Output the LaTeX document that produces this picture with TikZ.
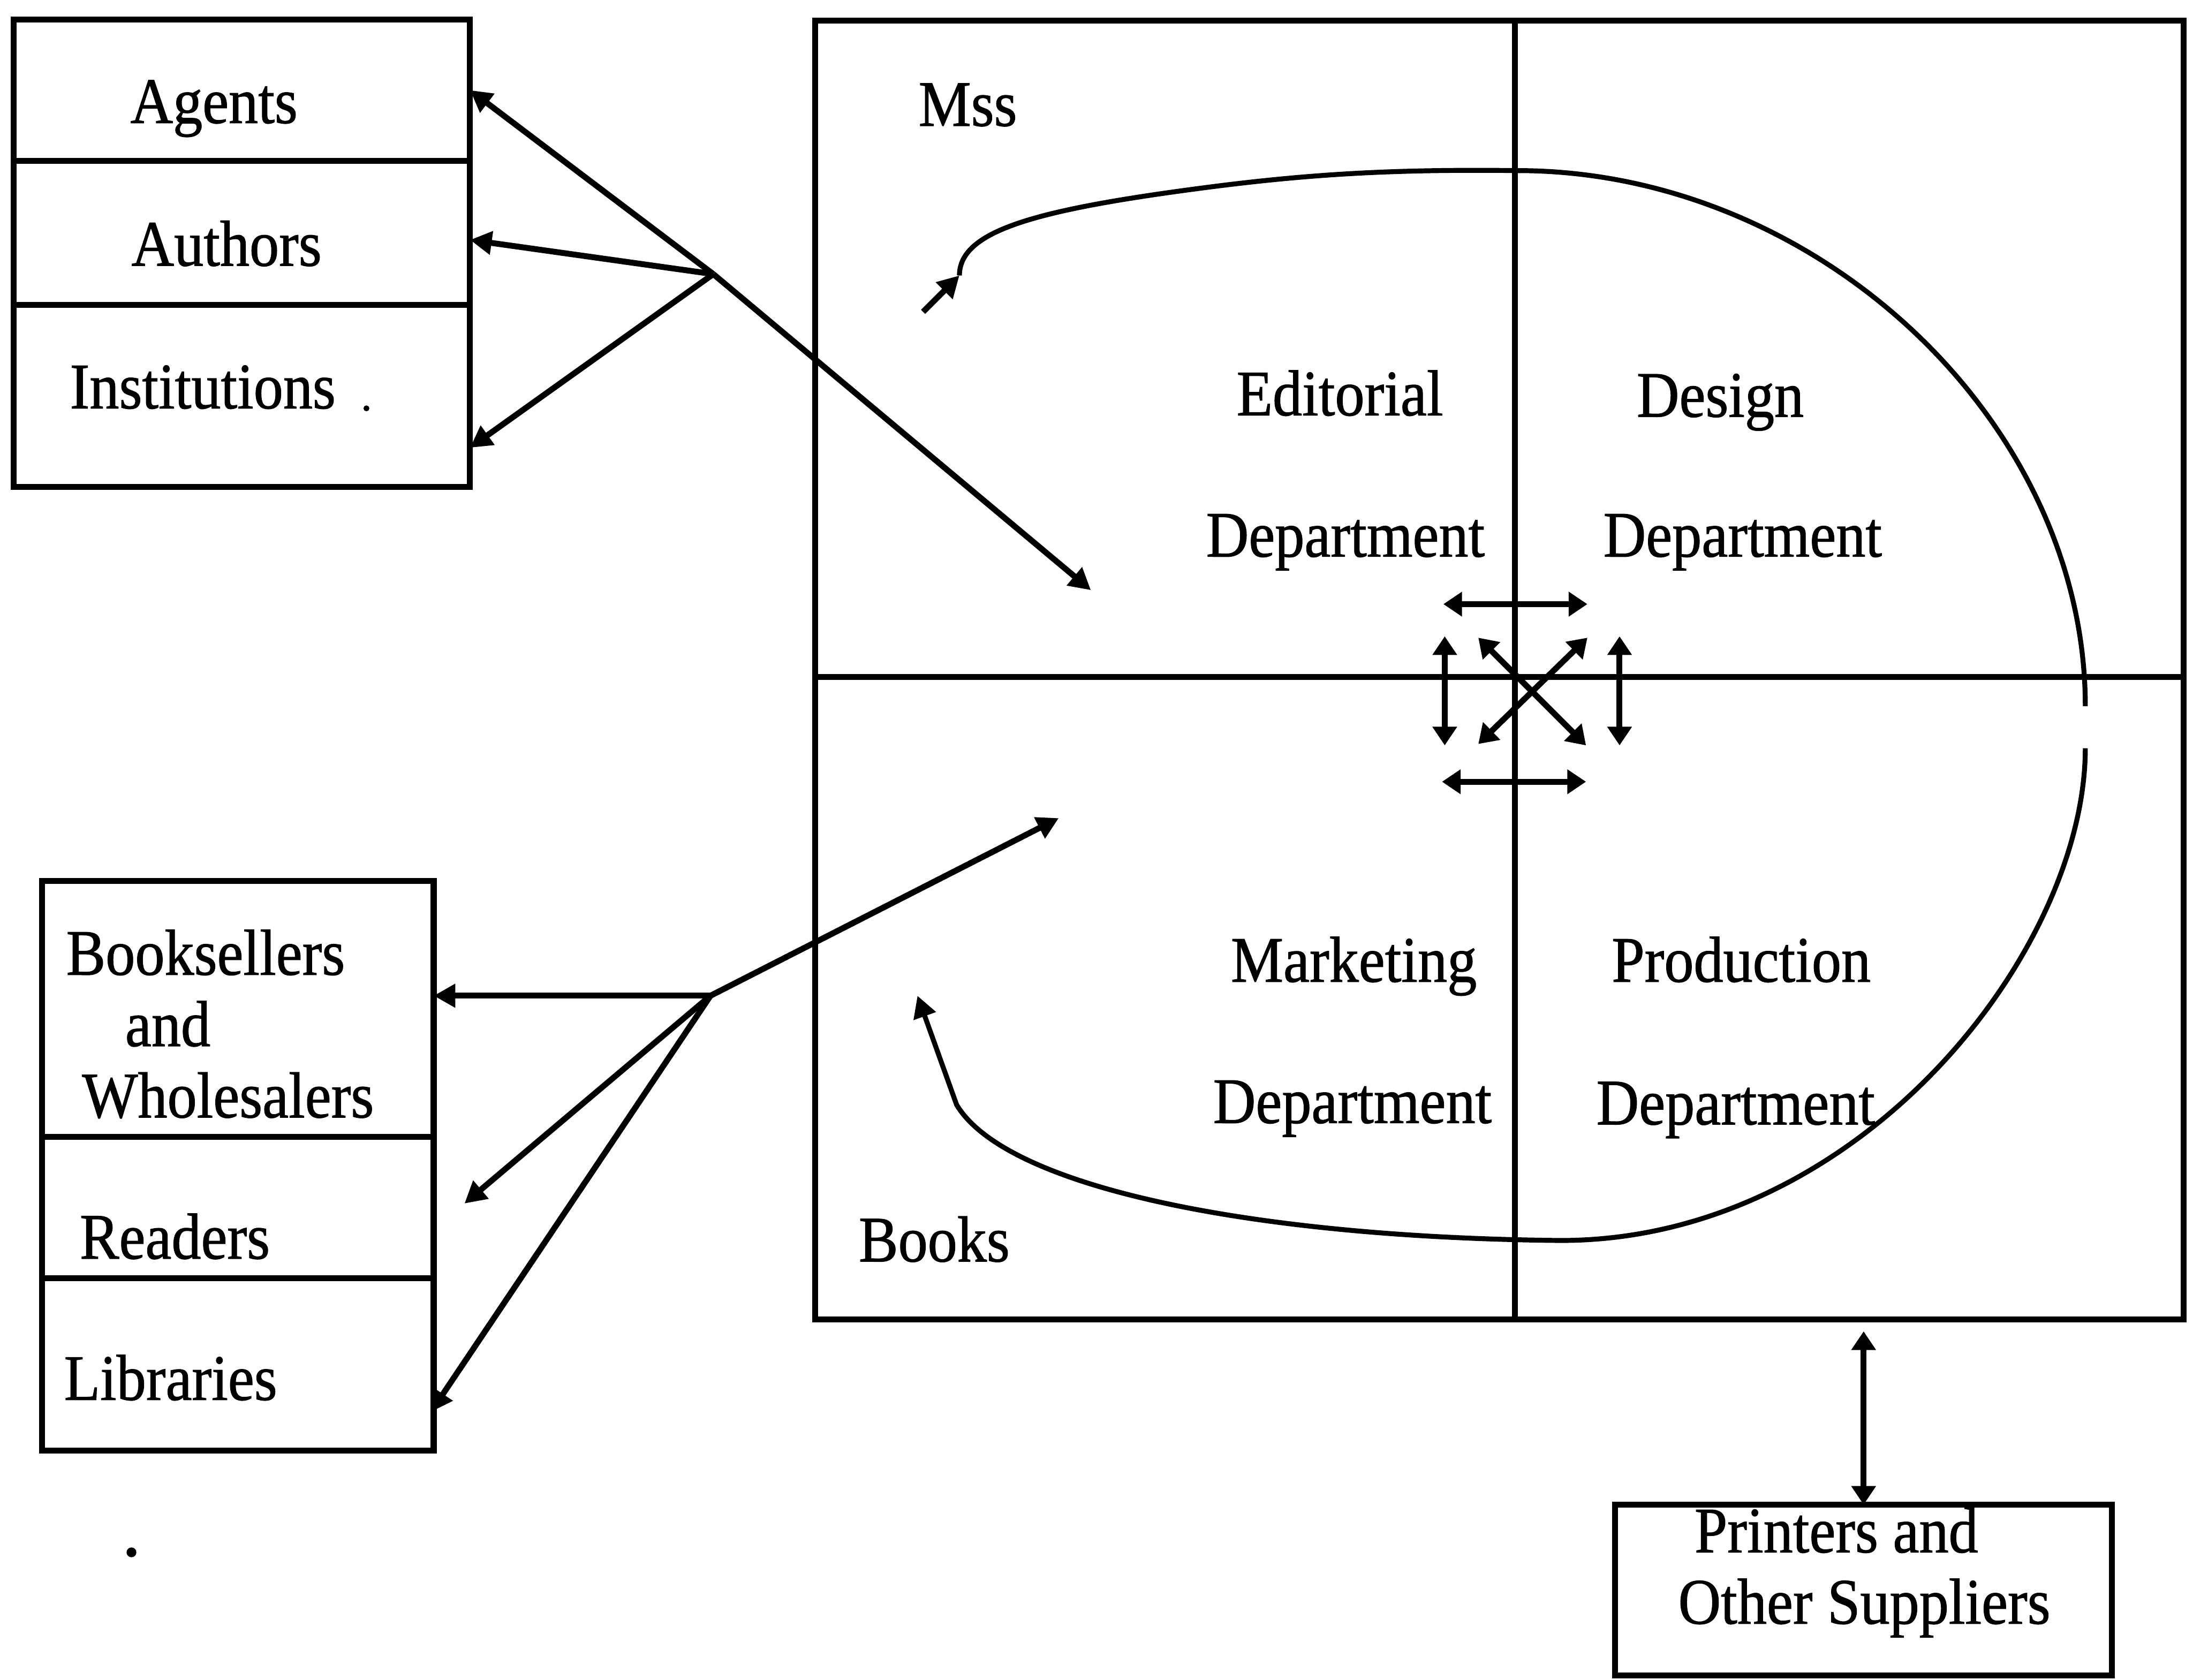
\documentclass[tikz,border=0pt]{standalone}
\usepackage{fontspec}
\setmainfont{Liberation Serif}[FakeBold=1]
\usetikzlibrary{positioning, arrows.meta, calc}

\begin{document}
\begin{tikzpicture}[x=0.01cm, y=-0.01cm, line width=1.2pt,
  box/.style={draw, rectangle, inner sep=0pt, outer sep=0pt},
  lbl/.style={anchor=base, inner sep=0pt, yscale=1.1, font=\fontsize{12}{14}\selectfont},
  arr/.style={-{Triangle[length=4.4pt, width=4.6pt]}},
  dbl/.style={{Triangle[length=3.8pt, width=4.8pt]}-{Triangle[length=3.8pt, width=4.8pt]}},
  flow/.style={line width=1pt}]

\useasboundingbox (0,0) rectangle (1568,1201);

% where the manuscripts come from
\node[box, minimum width=3.26cm, minimum height=1.01cm] (agents) at (173,64.5) {};
\node[box, minimum width=3.26cm, minimum height=1.03cm, below=0pt of agents] (authors) {};
\node[box, minimum width=3.26cm, minimum height=1.30cm, below=0pt of authors] (inst) {};

% the four departments
\node[box, minimum width=5.00cm, minimum height=4.69cm] (edit) at (833,249.5) {};
\node[box, minimum width=4.78cm, minimum height=4.69cm, right=0pt of edit] (design) {};
\node[box, minimum width=5.00cm, minimum height=4.59cm, below=0pt of edit] (mkt) {};
\node[box, minimum width=4.78cm, minimum height=4.59cm, right=0pt of mkt] (prod) {};

% where the books go
\node[box, minimum width=2.80cm, minimum height=1.83cm] (sellers) at (170,721.5) {};
\node[box, minimum width=2.80cm, minimum height=1.01cm, below=0pt of sellers] (readers) {};
\node[box, minimum width=2.80cm, minimum height=1.23cm, below=0pt of readers] (libs) {};

\node[box, minimum width=3.55cm, minimum height=1.22cm] (printers) at (1332.5,1137) {};

% labels
\node[lbl] (agentsl) at (153,88) {Agents};
\node[lbl] (authorsl) at (162,190) {Authors};
\node[lbl] (instl) at (145,292) {Institutions};
\node[lbl] (mss) at (692,90) {Mss};
\node[lbl] (edit1) at (958,297) {Editorial};
\node[lbl] (edit2) at (962,398) {Department};
\node[lbl] (design1) at (1230,298) {Design};
\node[lbl] (design2) at (1246,398) {Department};
\node[lbl] (mkt1) at (968,702) {Marketing};
\node[lbl] (mkt2) at (967,803) {Department};
\node[lbl] (prod1) at (1245,702) {Production};
\node[lbl] (prod2) at (1241,804) {Department};
\node[lbl] (books) at (668,902) {Books};
\node[lbl] (sellers1) at (147,697) {Booksellers};
\node[lbl] (sellers2) at (120,748) {and};
\node[lbl] (sellers3) at (163,799) {Wholesalers};
\node[lbl] (readersl) at (125,900) {Readers};
\node[lbl] (libsl) at (122,1001) {Libraries};
\node[lbl] (printers1) at (1313,1110) {Printers and};
\node[lbl] (printers2) at (1333,1161) {Other Suppliers};

\fill (262,292) circle (0.6pt);
\fill (94,1110) circle (1pt);

% manuscripts in, books out
\coordinate (hubA) at (510,196);
\coordinate (edIn) at (780,422);
\path[arr] (hubA) edge (agents.east)
  edge ($(authors.east)+(0,5)$)
  edge ($(inst.south east)+(0,-28)$)
  edge (edIn);

\coordinate (hubB) at (508,712);
\coordinate (mkIn) at (757,585);
\path[arr] (hubB) edge (sellers.east |- hubB)
  edge ($(readers.east)+(22,-3)$)
  edge ($(libs.east)+(-2,34)$)
  edge (mkIn);

% the round trip Mss -> Books
\coordinate (mssIn) at (660,223);
\coordinate (loopA) at (686,197);
\coordinate (loopTop) at (1085,122);
\coordinate (loopR1) at (1491,505);
\coordinate (loopR2) at (1491,535);
\coordinate (loopBot) at (1116,887);
\coordinate (loopL) at (684,790);
\coordinate (booksOut) at (656,712);

\draw[arr] (mssIn) -- (loopA);
\draw[flow] (loopA) .. controls (686,165) and (740,150) .. (863,134)
  .. controls (940,124) and (1000,121) .. (loopTop)
  .. controls (1300,122) and (1491,302) .. (loopR1);
\draw[flow, arr] (loopR2) .. controls (1491,680) and (1330,887) .. (loopBot)
  .. controls (900,885) and (720,850) .. (loopL) -- (booksOut);

% exchanges between departments
\coordinate (hubC) at (1096,495);
\draw[dbl] ($(hubC)+(-64,-63)$) -- ($(hubC)+(39,-63)$);
\draw[dbl] ($(hubC)+(-65,64)$) -- ($(hubC)+(38,64)$);
\draw[dbl] ($(hubC)+(-63,-40)$) -- ($(hubC)+(-63,38)$);
\draw[dbl] ($(hubC)+(62,-40)$) -- ($(hubC)+(62,38)$);
\draw[dbl] ($(hubC)+(-39,-39)$) -- ($(hubC)+(38,38)$);
\draw[dbl] ($(hubC)+(39,-39)$) -- ($(hubC)+(-39,37)$);

\coordinate (gap) at ($(printers.north)+(0,-124)$);
\draw[dbl] (gap) -- (printers.north);

\end{tikzpicture}
\end{document}
